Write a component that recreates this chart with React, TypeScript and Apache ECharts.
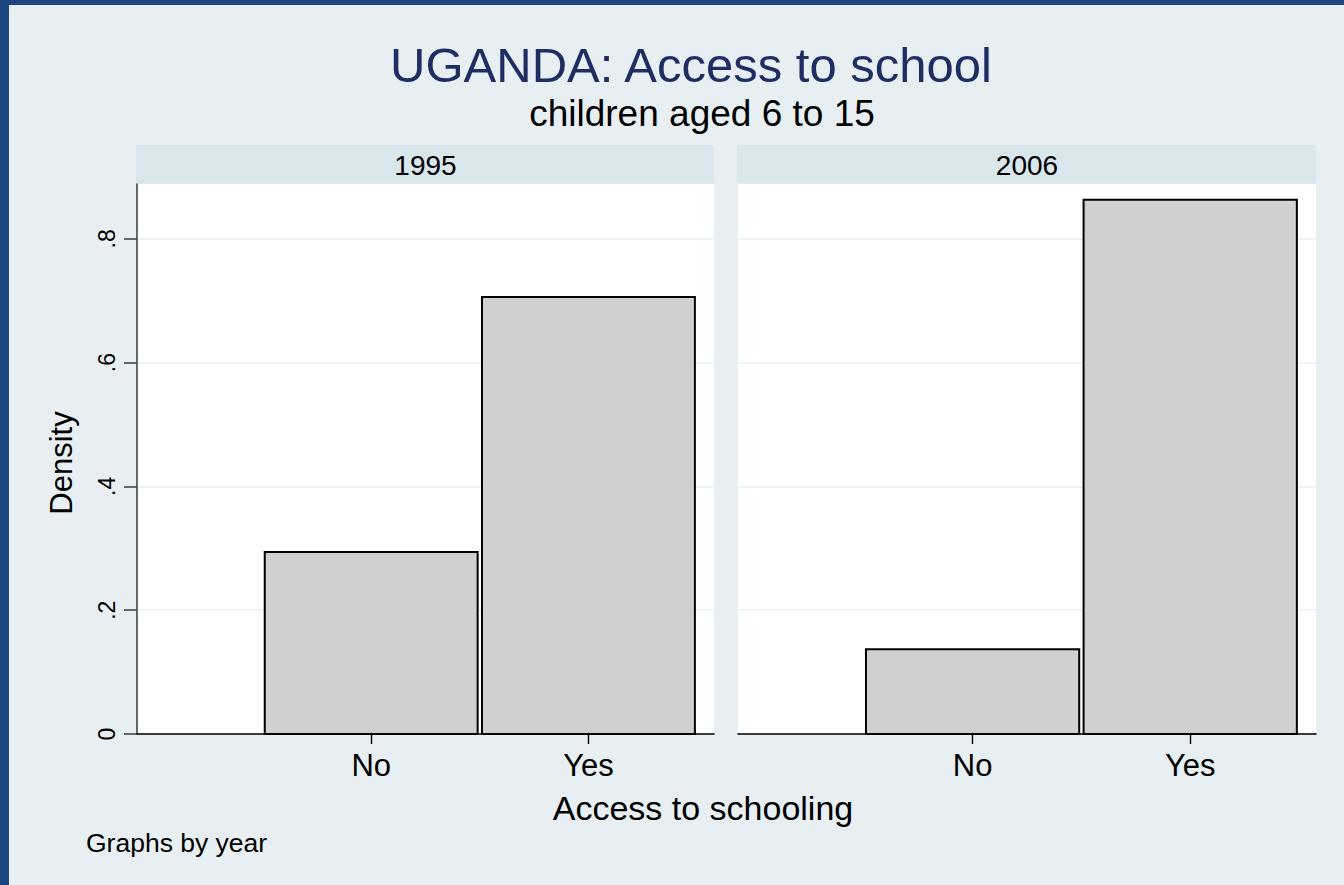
import React, { useEffect, useRef } from "react";
import * as echarts from "echarts";

const categories = ["No", "Yes"];
const binCenters = [0, 1];
const years = ["1995", "2006"];
const density1995 = [0.294, 0.706];
const density2006 = [0.137, 0.863];
const yTicks = [0, 0.2, 0.4, 0.6, 0.8];
const titleText = "UGANDA: Access to school";
const subtitleText = "children aged 6 to 15";
const xTitle = "Access to schooling";
const yTitle = "Density";
const noteText = "Graphs by year";

const BAR_HALF = 0.49;
const X_MIN = -1.078;
const X_MAX = 1.578;
const Y_MAX = 0.8885;
const FONT = "'Liberation Sans', Arial, Helvetica, sans-serif";

const fmtY = (v: number) => (v === 0 ? "0" : v.toFixed(1).replace(/^0/, ""));

export default function App() {
  const ref = useRef<HTMLDivElement>(null);
  useEffect(() => {
    if (!ref.current) return;
    const chart = echarts.init(ref.current, null, { renderer: "svg" });
    const panels = [
      { left: 137, width: 577, data: density1995, year: years[0] },
      { left: 738, width: 578, data: density2006, year: years[1] },
    ];
    const grids = panels.map((p) => ({
      left: p.left,
      top: 184,
      width: p.width,
      height: 550,
      show: true,
      backgroundColor: "#ffffff",
      borderWidth: 0,
    }));
    const xAxes = panels.map((p, i) => ({
      type: "value",
      gridIndex: i,
      min: X_MIN,
      max: X_MAX,
      axisLine: { show: true, onZero: false, lineStyle: { color: "#000", width: 1.6 } },
      axisTick: { show: true, customValues: binCenters, length: 10, lineStyle: { color: "#000", width: 1.4 } },
      axisLabel: {
        show: true,
        customValues: binCenters,
        formatter: (v: number) => categories[binCenters.indexOf(Math.round(v))] ?? "",
        fontSize: 31,
        fontFamily: FONT,
        color: "#000",
        margin: 16,
      },
      splitLine: { show: false },
    }));
    const yAxes = panels.map((p, i) => ({
      type: "value",
      gridIndex: i,
      min: 0,
      max: Y_MAX,
      interval: 0.2,
      axisLine: { show: i === 0, onZero: false, lineStyle: { color: "#444", width: 1.6 } },
      axisTick: { show: i === 0, customValues: yTicks, length: 13, lineStyle: { color: "#444", width: 1.6 } },
      axisLabel: {
        show: i === 0,
        customValues: yTicks,
        rotate: 90,
        formatter: fmtY,
        fontSize: 23,
        fontFamily: FONT,
        color: "#000",
        margin: 19,
      },
      splitLine: { show: true, lineStyle: { color: "#e8eff2", width: 1.6 } },
    }));
    const series = panels.map((p, i) => ({
      type: "custom",
      xAxisIndex: i,
      yAxisIndex: i,
      data: binCenters.map((c, k) => [c, p.data[k]]),
      renderItem: (params: any, api: any) => {
        const x = api.value(0);
        const y = api.value(1);
        const p0 = api.coord([x - BAR_HALF, 0]);
        const p1 = api.coord([x + BAR_HALF, y]);
        return {
          type: "rect",
          shape: { x: p0[0], y: p1[1], width: p1[0] - p0[0], height: p0[1] - p1[1] },
          style: { fill: "#d0d0d0", stroke: "#000", lineWidth: 2 },
        };
      },
    }));
    const graphic: any[] = [];
    panels.forEach((p) => {
      graphic.push({
        type: "rect",
        shape: { x: p.left - 1, y: 145, width: p.width + 1, height: 38.5 },
        style: { fill: "#d9e6ec" },
        silent: true,
      });
      graphic.push({
        type: "text",
        x: p.left + p.width / 2,
        y: 165,
        style: { text: p.year, font: `28px ${FONT}`, fill: "#000", textAlign: "center", textVerticalAlign: "middle" },
        z: 10,
      });
    });
    graphic.push(
      {
        type: "text",
        x: 691,
        y: 65,
        style: { text: titleText, font: `49px ${FONT}`, fill: "#1f2e62", textAlign: "center", textVerticalAlign: "middle" },
      },
      {
        type: "text",
        x: 702,
        y: 113,
        style: { text: subtitleText, font: `37px ${FONT}`, fill: "#000", textAlign: "center", textVerticalAlign: "middle" },
      },
      {
        type: "text",
        x: 703,
        y: 808,
        style: { text: xTitle, font: `34px ${FONT}`, fill: "#000", textAlign: "center", textVerticalAlign: "middle" },
      },
      {
        type: "text",
        x: 61,
        y: 463,
        rotation: Math.PI / 2,
        style: { text: yTitle, font: `31px ${FONT}`, fill: "#000", textAlign: "center", textVerticalAlign: "middle" },
      },
      {
        type: "text",
        x: 86,
        y: 843,
        style: { text: noteText, font: `26.5px ${FONT}`, fill: "#000", textAlign: "left", textVerticalAlign: "middle" },
      }
    );
    chart.setOption({
      animation: false,
      backgroundColor: "transparent",
      grid: grids,
      xAxis: xAxes,
      yAxis: yAxes,
      series,
      graphic,
    });
    return () => chart.dispose();
  }, []);
  return (
    <div style={{ position: "fixed", left: 0, top: 0, width: 1344, height: 885, background: "#1e4681" }}>
      <div style={{ position: "absolute", left: 9, top: 5, width: 1335, height: 880, background: "#e8eff2" }} />
      <div ref={ref} style={{ position: "absolute", left: 0, top: 0, width: 1344, height: 885 }} />
    </div>
  );
}
